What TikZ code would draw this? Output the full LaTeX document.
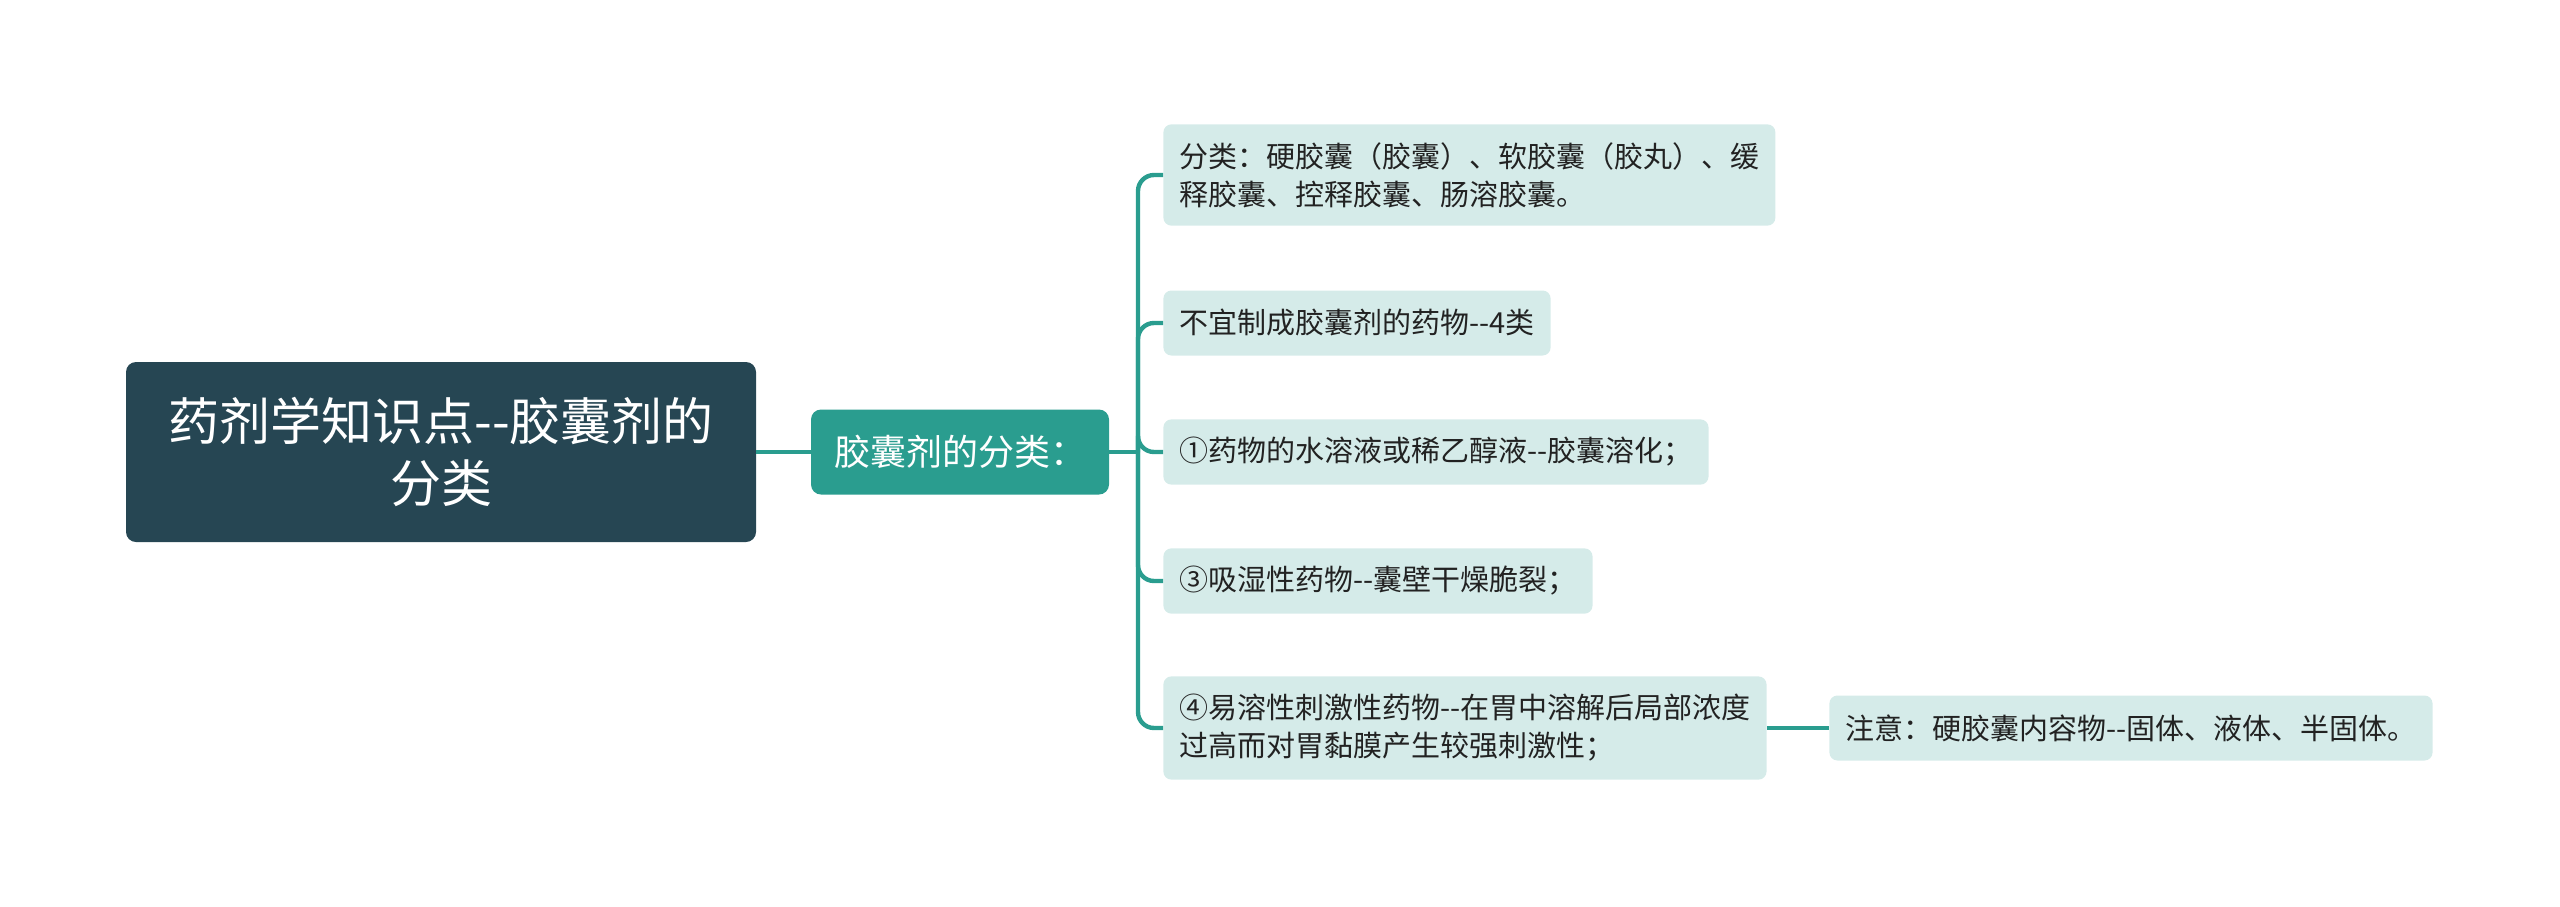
\documentclass[tikz,border=0pt]{standalone}
\usepackage{fontspec}
\setmainfont{Noto Sans CJK SC}
\usetikzlibrary{positioning}
\definecolor{rootfill}{HTML}{264653}
\definecolor{mainfill}{HTML}{2A9D8F}
\definecolor{leaffill}{HTML}{D5EBE9}
\definecolor{linecol}{HTML}{2A9D8F}
\definecolor{leaftext}{HTML}{222222}
\newcommand{\dd}{-{}-}
\begin{document}
\begin{tikzpicture}[x=0.5pt,y=-0.5pt,
  rootbox/.style={fill=rootfill,rounded corners=5pt,text=white,align=center,
    minimum width=315pt,minimum height=90pt,
    font=\fontsize{25.5pt}{31pt}\selectfont},
  mainbox/.style={fill=mainfill,rounded corners=5pt,text=white,
    minimum width=149pt,minimum height=42.5pt,
    font=\fontsize{18pt}{21pt}\selectfont},
  leaf/.style={fill=leaffill,rounded corners=4pt,text=leaftext,align=left,
    anchor=west,inner xsep=8pt,inner ysep=9pt,minimum height=32.5pt,
    font=\fontsize{14.5pt}{19pt}\selectfont},
  conn/.style={draw=linecol,line width=2.2pt}]
\useasboundingbox (0,0) rectangle (2560,906);
% root and first level
\node[rootbox] (root) at (441,452) {药剂学知识点\dd 胶囊剂的\\分类};
\node[mainbox] (kind) at (960,452) {胶囊剂的分类：};
\coordinate (fork) at (1138,452);
% leaves
\node[leaf] (c1) at (1163,175) {分类：硬胶囊（胶囊）、软胶囊（胶丸）、缓\\释胶囊、控释胶囊、肠溶胶囊。};
\node[leaf] (c2) at (1163,323) {不宜制成胶囊剂的药物\dd 4类};
\node[leaf] (c3) at (1163,452) {①药物的水溶液或稀乙醇液\dd 胶囊溶化；};
\node[leaf] (c4) at (1163,581) {③吸湿性药物\dd 囊壁干燥脆裂；};
\node[leaf] (c5) at (1163,728) {④易溶性刺激性药物\dd 在胃中溶解后局部浓度\\过高而对胃黏膜产生较强刺激性；};
\node[leaf] (note) at (1829,728) {注意：硬胶囊内容物\dd 固体、液体、半固体。};
% connectors
\draw[conn] (root.east) -- (kind.west);
\draw[conn] (kind.east) -- (fork);
\foreach \c in {c1,c2,c3,c4,c5}
  \draw[conn,rounded corners=8pt] (fork) |- (\c.west);
\draw[conn] (c5.east) -- (note.west);
\end{tikzpicture}
\end{document}
